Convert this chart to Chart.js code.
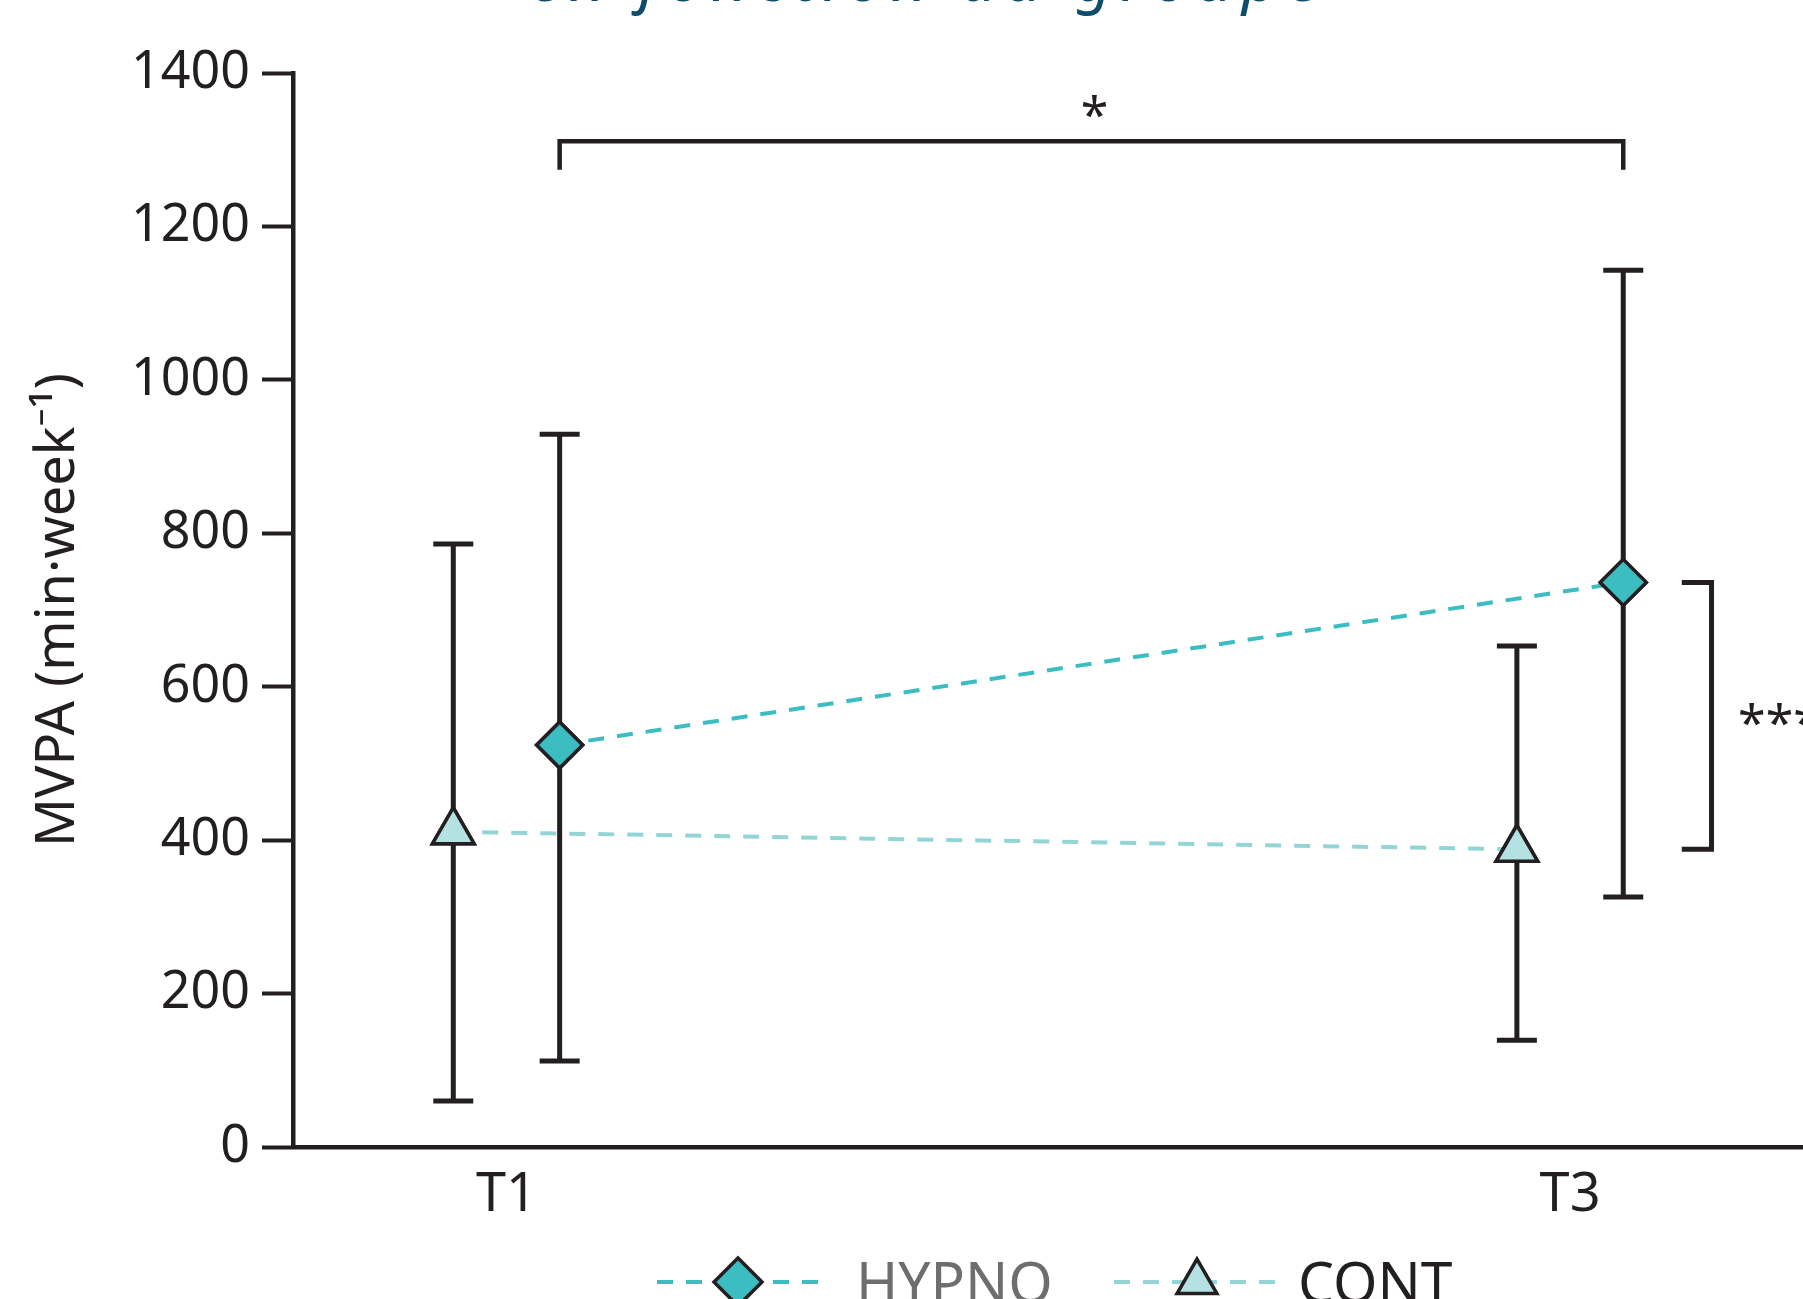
<!DOCTYPE html>
<html>
<head>
<meta charset="utf-8">
<script src="https://cdn.jsdelivr.net/npm/chart.js@4.4.1/dist/chart.umd.min.js"></script>
<style>
  html, body { margin: 0; padding: 0; background: #fff; }
</style>
</head>
<body>
<canvas id="chart" width="1803" height="1299"></canvas>
<script>
const categories = ["T1", "T3"];
const hypnoMean = [524, 736];
const hypnoUpper = [929, 1143];
const hypnoLower = [112, 326];
const contMean = [411, 388];
const contUpper = [786, 653];
const contLower = [60, 139];
const yTicks = [0, 200, 400, 600, 800, 1000, 1200, 1400];

const INK = "#231f20";
const FONT = "'Noto Sans', sans-serif";
const HYPNO_COL = "#3bbdc2";
const CONT_FILL = "#b4e1e2";
const CONT_LINE = "#93d5d7";
const SHIFT = 0.05;   // side-by-side offset of the two groups

function pts(means, shift) {
  return means.map((v, i) => ({ x: i + shift, y: v }));
}

// error bars drawn over the dashed lines, markers drawn again on top
const errorBars = {
  id: "errorBars",
  afterDatasetsDraw(chart) {
    const { ctx, scales: { x, y } } = chart;
    ctx.save();
    ctx.strokeStyle = INK;
    ctx.lineWidth = 5;
    chart.data.datasets.forEach((ds) => {
      ds.data.forEach((p, i) => {
        const px = x.getPixelForValue(p.x);
        const top = y.getPixelForValue(ds.errUp[i]);
        const bot = y.getPixelForValue(ds.errLow[i]);
        ctx.beginPath();
        ctx.moveTo(px, top); ctx.lineTo(px, bot);
        ctx.moveTo(px - 20, top); ctx.lineTo(px + 20, top);
        ctx.moveTo(px - 20, bot); ctx.lineTo(px + 20, bot);
        ctx.stroke();
      });
    });
    chart.data.datasets.forEach((ds, di) => {
      chart.getDatasetMeta(di).data.forEach(pt => pt.draw(ctx, chart.chartArea));
    });
    ctx.restore();
  }
};

function diamond(ctx, cx, cy, r) {
  ctx.beginPath();
  ctx.moveTo(cx - r, cy); ctx.lineTo(cx, cy - r);
  ctx.lineTo(cx + r, cy); ctx.lineTo(cx, cy + r);
  ctx.closePath();
}
function triangle(ctx, cx, cy, r) {
  ctx.beginPath();
  ctx.moveTo(cx, cy - r);
  ctx.lineTo(cx + r * 0.866, cy + r * 0.5);
  ctx.lineTo(cx - r * 0.866, cy + r * 0.5);
  ctx.closePath();
}

const extras = {
  id: "extras",
  afterDraw(chart) {
    const { ctx, scales: { x, y } } = chart;
    ctx.save();

    // title (cut by the top edge)
    ctx.font = "italic 400 64px " + FONT;
    ctx.letterSpacing = "8px";
    ctx.fillStyle = "#0e4d6b";
    ctx.textAlign = "center";
    ctx.textBaseline = "alphabetic";
    ctx.fillText("en fonction du groupe", 928, 1);
    ctx.letterSpacing = "0px";

    ctx.strokeStyle = INK;
    ctx.fillStyle = INK;
    ctx.lineWidth = 4.5;

    // T1 vs T3 bracket for HYPNO
    const x1 = x.getPixelForValue(0 + SHIFT);
    const x2 = x.getPixelForValue(1 + SHIFT);
    const yb = y.getPixelForValue(1311);
    const yl = y.getPixelForValue(1274);
    ctx.beginPath();
    ctx.moveTo(x1, yl); ctx.lineTo(x1, yb); ctx.lineTo(x2, yb); ctx.lineTo(x2, yl);
    ctx.stroke();
    ctx.font = "400 50px " + FONT;
    ctx.textAlign = "center";
    ctx.fillText("*", (x1 + x2) / 2 + 3, yb - 8);

    // HYPNO vs CONT bracket at T3
    const bx1 = x.getPixelForValue(1.105);
    const bx2 = x.getPixelForValue(1.133);
    const by1 = y.getPixelForValue(hypnoMean[1]);
    const by2 = y.getPixelForValue(contMean[1]);
    ctx.lineWidth = 5;
    ctx.beginPath();
    ctx.moveTo(bx1, by1); ctx.lineTo(bx2, by1); ctx.lineTo(bx2, by2); ctx.lineTo(bx1, by2);
    ctx.stroke();
    ctx.textAlign = "left";
    ctx.fillText("***", x.getPixelForValue(1.158), (by1 + by2) / 2 + 25);

    // legend (cut by the bottom edge)
    const ly = 1282;
    ctx.lineWidth = 4;
    ctx.setLineDash([16, 13]);
    ctx.strokeStyle = HYPNO_COL;
    ctx.beginPath(); ctx.moveTo(657, ly); ctx.lineTo(818, ly); ctx.stroke();
    ctx.strokeStyle = CONT_LINE;
    ctx.beginPath(); ctx.moveTo(1114, ly); ctx.lineTo(1277, ly); ctx.stroke();
    ctx.setLineDash([]);
    ctx.lineWidth = 3.5;
    ctx.strokeStyle = INK;
    diamond(ctx, 738, ly, 24);
    ctx.fillStyle = HYPNO_COL; ctx.fill(); ctx.stroke();
    triangle(ctx, 1197, ly, 23);
    ctx.fillStyle = CONT_FILL; ctx.fill(); ctx.stroke();
    ctx.font = "400 57px " + FONT;
    ctx.fillStyle = "#6d6e70";
    ctx.fillText("HYPNO", 856, 1303);
    ctx.fillStyle = INK;
    ctx.fillText("CONT", 1298, 1303);

    ctx.restore();
  }
};

new Chart("chart", {
  type: "line",
  data: {
    datasets: [
      {
        label: "CONT",
        data: pts(contMean, -SHIFT),
        errUp: contUpper,
        errLow: contLower,
        borderColor: CONT_LINE,
        borderWidth: 4,
        borderDash: [16, 13],
        pointStyle: "triangle",
        pointRadius: 24,
        pointBackgroundColor: CONT_FILL,
        pointBorderColor: INK,
        pointBorderWidth: 3.5,
        tension: 0
      },
      {
        label: "HYPNO",
        data: pts(hypnoMean, SHIFT),
        errUp: hypnoUpper,
        errLow: hypnoLower,
        borderColor: HYPNO_COL,
        borderWidth: 4,
        borderDash: [16, 13],
        pointStyle: "rectRot",
        pointRadius: 23,
        pointBackgroundColor: HYPNO_COL,
        pointBorderColor: INK,
        pointBorderWidth: 3.5,
        tension: 0
      }
    ]
  },
  options: {
    responsive: false,
    animation: false,
    layout: { autoPadding: false, padding: { top: 73, left: 0, right: 0, bottom: 0 } },
    plugins: { legend: { display: false }, tooltip: { enabled: false } },
    scales: {
      x: {
        type: "linear",
        min: -0.2007,
        max: 1.219,
        afterBuildTicks: s => { s.ticks = categories.map((c, i) => ({ value: i })); },
        afterFit: s => { s.height = 152; s.paddingLeft = 0; s.paddingRight = 0; },
        ticks: {
          callback: v => categories[v] ?? "",
          font: { family: FONT, size: 54 },
          color: INK,
          padding: 16,
          maxRotation: 0,
          autoSkip: false
        },
        grid: { display: false, drawTicks: false },
        border: { display: true, color: INK, width: 4.5 }
      },
      y: {
        min: 0,
        max: 1400,
        afterBuildTicks: s => { s.ticks = yTicks.map(v => ({ value: v })); },
        afterFit: s => { s.width = 293; },
        ticks: {
          callback: v => String(v),
          font: { family: FONT, size: 52 },
          color: INK,
          padding: 12
        },
        grid: { display: true, drawOnChartArea: false, drawTicks: true, tickLength: 31, tickWidth: 4, tickColor: INK },
        border: { display: true, color: INK, width: 4.5 },
        title: {
          display: true,
          text: "MVPA (min·week⁻¹)",
          font: { family: FONT, size: 54 },
          color: INK,
          padding: { top: 26, bottom: 0 }
        }
      }
    }
  },
  plugins: [errorBars, extras]
});
</script>
</body>
</html>
